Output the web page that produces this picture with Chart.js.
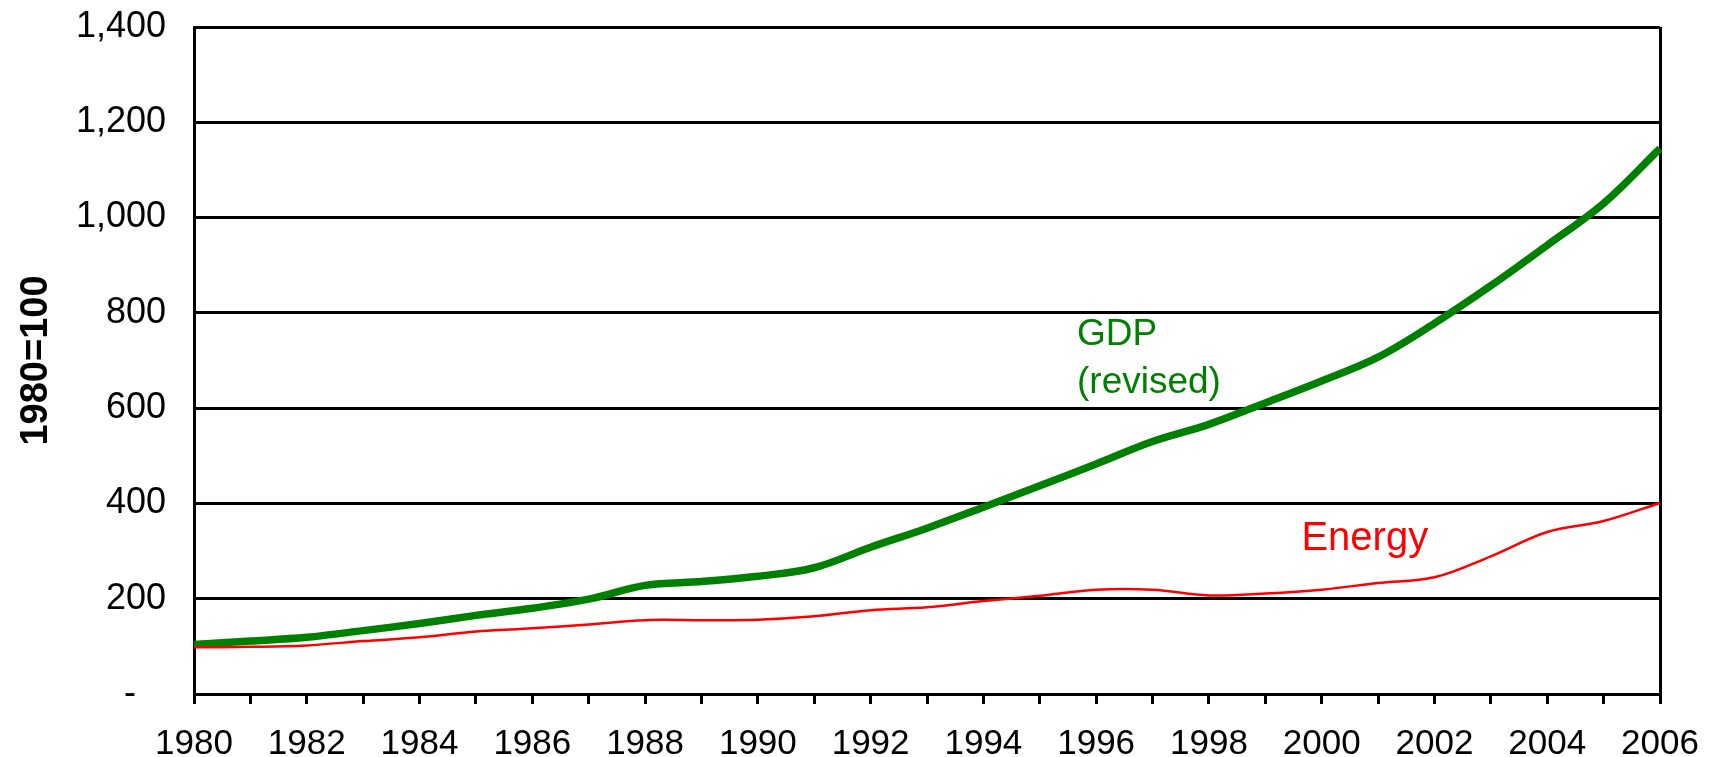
<!DOCTYPE html>
<html>
<head>
<meta charset="utf-8">
<script src="https://cdn.jsdelivr.net/npm/chart.js@4"></script>
<style>
  html, body { margin: 0; padding: 0; background: #fff; }
  #wrap { width: 1711px; height: 757px; position: relative; }
</style>
</head>
<body>
<div id="wrap"><canvas id="chart"></canvas></div>
<script>
// Index values, 1980 = 100
const years = ['1980', '1981', '1982', '1983', '1984', '1985', '1986', '1987', '1988',
  '1989', '1990', '1991', '1992', '1993', '1994', '1995', '1996', '1997', '1998',
  '1999', '2000', '2001', '2002', '2003', '2004', '2005', '2006'];
const gdpValues = [104, 111, 119, 133, 148, 165, 180, 199, 228, 236, 247, 265, 308,
  348, 392, 437, 483, 530, 566, 611, 657, 707, 778, 857, 942, 1030, 1145];
const energyValues = [98, 99, 102, 111, 119, 131, 138, 146, 155, 155, 156, 163, 176,
  182, 195, 206, 219, 219, 207, 211, 219, 233, 245, 289, 340, 363, 401];

// In-chart labels: text, anchor year (category index), anchor value
const labelTexts = ['GDP', '(revised)', 'Energy'];
const labelIndex = [15.66, 15.66, 19.64];
const labelValue = [732, 632, 302];
const labelColors = ['#008000', '#008000', '#ff0000'];
const labelSizes = [37, 37, 40];

const FONT = '"Liberation Sans", Arial, sans-serif';

// draws the series names inside the plot
const seriesLabels = {
  id: 'seriesLabels',
  afterDatasetsDraw(chart) {
    const { ctx, scales } = chart;
    ctx.save();
    ctx.textAlign = 'left';
    ctx.textBaseline = 'alphabetic';
    labelTexts.forEach((t, i) => {
      ctx.font = labelSizes[i] + 'px ' + FONT;
      ctx.fillStyle = labelColors[i];
      ctx.fillText(t, scales.x.getPixelForValue(labelIndex[i]), scales.y.getPixelForValue(labelValue[i]));
    });
    ctx.restore();
  }
};

const ctx = document.getElementById('chart').getContext('2d');
new Chart(ctx, {
  type: 'line',
  data: {
    labels: years,
    datasets: [
      {
        label: 'Energy',
        data: energyValues,
        borderColor: '#ff0000',
        borderWidth: 2.5,
        pointRadius: 0,
        tension: 0.35,
        fill: false
      },
      {
        label: 'GDP (revised)',
        data: gdpValues,
        borderColor: '#008000',
        borderWidth: 7.5,
        pointRadius: 0,
        tension: 0.35,
        fill: false
      }
    ]
  },
  options: {
    responsive: true,
    maintainAspectRatio: false,
    animation: false,
    layout: { padding: { top: 27, right: 51, left: 0, bottom: 0 } },
    plugins: {
      legend: { display: false },
      tooltip: { enabled: false }
    },
    scales: {
      x: {
        offset: false,
        grid: {
          drawOnChartArea: true,
          // only the last year line shows, as the right edge of the frame
          color: c => (c.index === years.length - 1 ? '#000' : 'rgba(0,0,0,0)'),
          tickColor: '#000',
          lineWidth: 3,
          tickWidth: 3,
          tickLength: 10
        },
        border: { display: true, color: '#000', width: 3 },
        ticks: {
          autoSkip: false,
          maxRotation: 0,
          padding: 19,
          color: '#000',
          font: { family: FONT, size: 35 },
          callback: (v, i) => (i % 2 === 0 ? years[i] : '')
        },
        afterFit: s => {
          s.height = 63;
          s.paddingLeft = 0;
          s.paddingRight = 0;
        }
      },
      y: {
        min: 0,
        max: 1400,
        grid: {
          color: '#000',
          lineWidth: 3,
          drawTicks: false
        },
        border: { display: true, color: '#000', width: 3 },
        ticks: {
          stepSize: 200,
          padding: 28,
          color: '#000',
          font: { family: FONT, size: 36 },
          callback: v => (v === 0 ? '-   ' : v.toLocaleString('en-US'))
        },
        title: {
          display: true,
          text: '1980=100',
          color: '#000',
          padding: { top: 14, bottom: 0 },
          font: { family: FONT, size: 38, weight: 'bold' }
        },
        afterFit: s => {
          s.width = 194;
          s.paddingTop = 0;
          s.paddingBottom = 0;
        }
      }
    }
  },
  plugins: [seriesLabels]
});
</script>
</body>
</html>
